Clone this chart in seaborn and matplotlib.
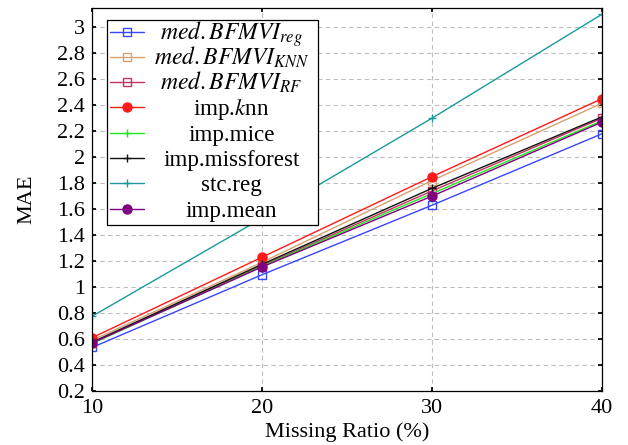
import matplotlib
import matplotlib.pyplot as plt
import numpy as np
import pandas as pd
import seaborn as sns

matplotlib.use("Agg")

# values
ratios = [10, 20, 30, 40]
med_reg = [0.535, 1.095, 1.63, 2.18]
med_knn = [0.59, 1.19, 1.82, 2.415]
med_rf = [0.57, 1.165, 1.74, 2.30]
imp_knn = [0.61, 1.23, 1.85, 2.45]
imp_mice = [0.565, 1.16, 1.72, 2.28]
imp_missforest = [0.575, 1.175, 1.76, 2.31]
stc_reg = [0.775, 1.53, 2.30, 3.10]
imp_mean = [0.57, 1.155, 1.70, 2.27]

labels = [r"$med.BFMVI_{reg}$", r"$med.BFMVI_{KNN}$", r"$med.BFMVI_{RF}$",
          r"imp.$k$nn", "imp.mice", "imp.missforest", "stc.reg", "imp.mean"]
series = [med_reg, med_knn, med_rf, imp_knn, imp_mice, imp_missforest, stc_reg, imp_mean]

colors = ["#3a45ff", "#d9a070", "#c8305e", "#ff1a1a", "#1ee81e", "#111111", "#1a9a9a", "#800080"]
markers = ["s", "s", "s", "o", "+", "+", "+", "o"]

sns.set_theme(style="white")
plt.rcParams["font.family"] = ["Liberation Serif", "DejaVu Serif"]
plt.rcParams["mathtext.fontset"] = "stix"

fs = 16
leg_fs = 16.6
fig = plt.figure(figsize=(6.28, 4.45), dpi=100)
ax = fig.add_axes([0.1465, 0.1213, 0.8121, 0.8607])

for lab, vals, c, m in zip(labels, series, colors, markers):
    df = pd.DataFrame({"ratio": ratios, "mae": vals})
    sns.lineplot(data=df, x="ratio", y="mae", ax=ax, label=lab, lw=1.0,
                 color=c, marker=m, mec=c, mfc="none" if m == "s" else c,
                 markersize={"s": 6, "o": 6.5, "+": 6}[m], mew=1.0)

ax.set_xlim(10, 40)
ax.set_ylim(0.2, 3.148)
ax.set_xticks(ratios)
yt = np.round(np.arange(0.2, 3.01, 0.2), 1)
ax.set_yticks(yt)
ax.set_yticklabels([f"{v:g}" for v in yt])
ax.grid(True, color="#bdbdbd", ls=(0, (4, 3)), lw=0.8)
ax.tick_params(direction="in", length=3, labelsize=fs, colors="black",
               top=True, right=True, bottom=True, left=True)
ax.tick_params(axis="x", pad=6)
ax.tick_params(axis="y", pad=5)
for sp in ax.spines.values():
    sp.set_color("black")
    sp.set_linewidth(0.9)
ax.set_xlabel("Missing Ratio (%)", fontsize=fs, color="black", labelpad=3)
ax.set_ylabel("MAE", fontsize=fs, color="black", labelpad=15)

# legend laid out with equal-size placeholder labels so rows are evenly spaced,
# the real labels are drawn centred on top afterwards (pgfplots style)
handles, _ = ax.get_legend_handles_labels()
leg = ax.legend(handles, ["imp.missforestmn"] * len(handles),
                loc="upper left", bbox_to_anchor=(0.0294, 0.9687), borderaxespad=0,
                fontsize=leg_fs, handlelength=1.45, handletextpad=0.2, labelspacing=0.18,
                borderpad=0.15, frameon=True, fancybox=False, framealpha=1)
leg.get_frame().set_edgecolor("black")
leg.get_frame().set_linewidth(0.9)

fig.canvas.draw()
rend = fig.canvas.get_renderer()
texts = leg.get_texts()
boxes = [t.get_window_extent(rend) for t in texts]
cx = (min(b.x0 for b in boxes) + max(b.x1 for b in boxes)) / 2
for i, (t, lab) in enumerate(zip(texts, labels)):
    xd, yd = t.get_transform().transform(t.get_position())
    fig.text(cx / fig.bbox.width, yd / fig.bbox.height, lab,
             ha="center", va="baseline", fontsize=17.0 if i < 3 else leg_fs,
             color="black")
    t.set_alpha(0)

fig.savefig("out.png", dpi=100)
